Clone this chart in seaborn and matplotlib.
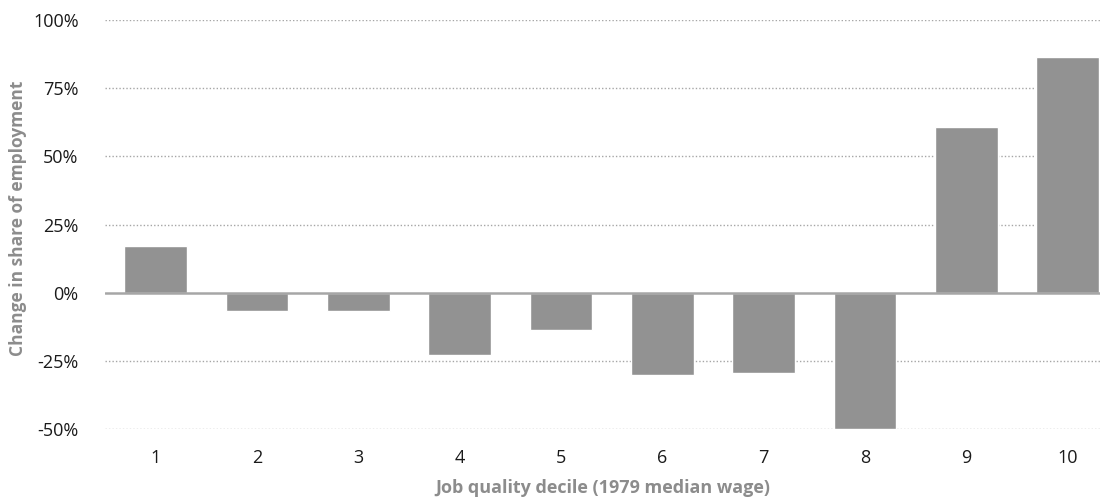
import matplotlib
matplotlib.use("Agg")
import matplotlib.pyplot as plt
import seaborn as sns
import pandas as pd
from matplotlib.ticker import FuncFormatter

deciles = ["1", "2", "3", "4", "5", "6", "7", "8", "9", "10"]
change = [17.2, -6.8, -6.8, -23.0, -13.8, -30.0, -29.3, -50.0, 60.6, 86.3]
yticks = [-50, -25, 0, 25, 50, 75, 100]

df = pd.DataFrame({"decile": deciles, "change": change})

sns.set_theme(style="white")
plt.rcParams["font.family"] = ["Open Sans", "DejaVu Sans"]

fig = plt.figure(figsize=(11.12, 4.99), dpi=100)
ax = fig.add_axes([0.0944, 0.140, 0.8948, 0.820])

for y in yticks:
    if y != 0:
        ax.axhline(y, color="#a6a6a6", lw=1.0, ls=(0, (1, 1.5)), zorder=0)

sns.barplot(data=df, x="decile", y="change", color="#929292", saturation=1,
            width=0.62, ax=ax, zorder=2)
ax.axhline(0, color="#a6a6a6", lw=1.8, zorder=3)

ax.set_ylim(-50, 100)
ax.set_xlim(-0.5, 9.32)
ax.set_yticks(yticks)
ax.yaxis.set_major_formatter(FuncFormatter(lambda v, p: f"{int(v)}%"))
for s in ax.spines.values():
    s.set_visible(False)
ax.tick_params(axis="both", length=0, labelsize=13, colors="#1a1a1a")
ax.tick_params(axis="y", pad=19)
ax.tick_params(axis="x", pad=14)
ax.set_xlabel("Job quality decile (1979 median wage)", fontsize=13,
              fontweight="bold", color="#8c8c8c", labelpad=9)
ax.set_ylabel("Change in share of employment", fontsize=12.5,
              fontweight="bold", color="#8c8c8c")
ax.yaxis.set_label_coords(-0.078, 0.516)

fig.savefig("out.png", dpi=100)
